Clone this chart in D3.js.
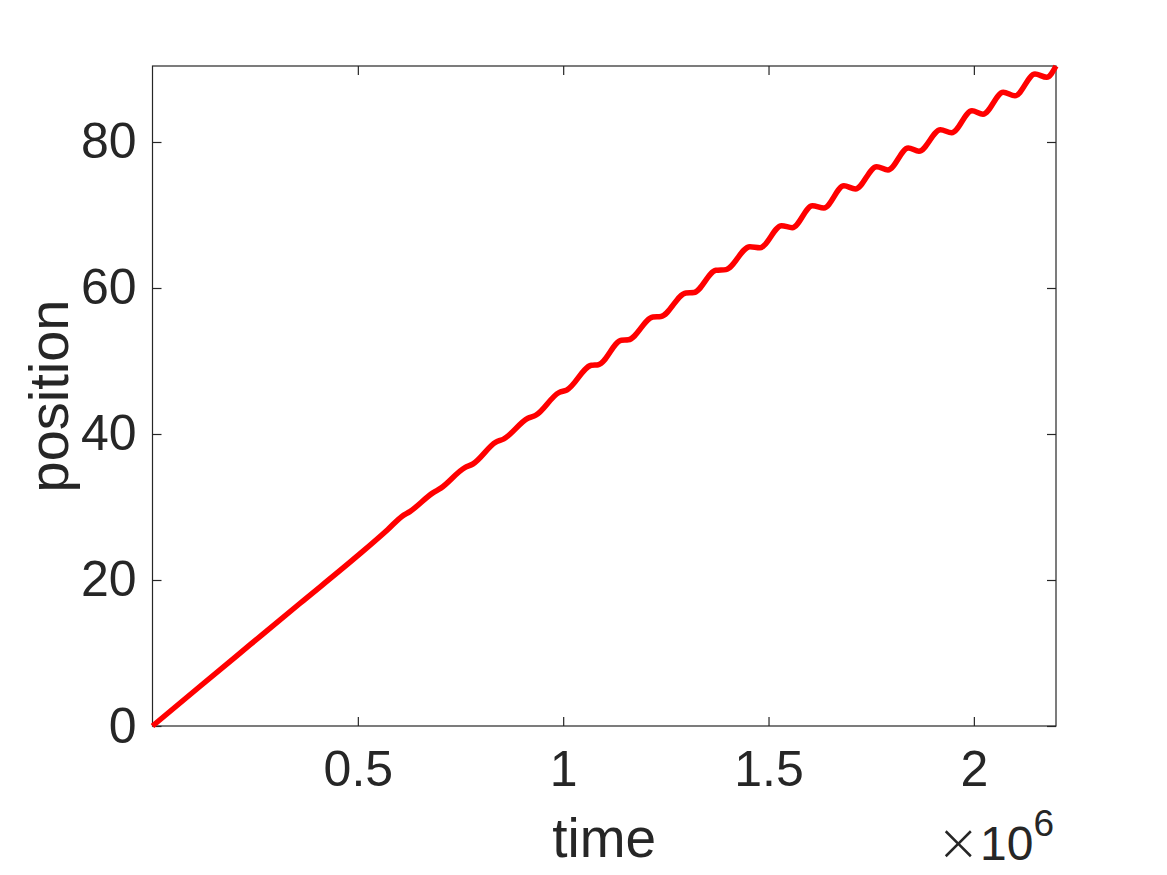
<!DOCTYPE html>
<html>
<head>
<meta charset="utf-8">
<script src="https://cdn.jsdelivr.net/npm/d3@7"></script>
<style>
  html, body { margin: 0; padding: 0; background: #ffffff; }
  svg { display: block; }
  text { font-family: "Liberation Sans", Arial, Helvetica, sans-serif; fill: #262626; }
</style>
</head>
<body>
<svg id="chart" width="1167" height="875"></svg>
<script>
// ---- data ----
const time = [
  0, 115200, 237000, 358700, 496800, 573100,
  607200, 626600, 682700, 702100, 760600, 780100, 836100, 855600,
  914000, 933500, 989500, 1009000, 1068700, 1085700, 1141700, 1158800,
  1218500, 1238000, 1298800, 1318300, 1371900, 1396300,
  1454700, 1479100, 1531900, 1557700, 1606900, 1634900, 1683600, 1711600,
  1763300, 1790800, 1840200, 1866300, 1918700, 1945900, 1995400, 2022200,
  2071600, 2100100, 2148800, 2177300, 2200000
];
const position = [
  0, 5.41, 11.10, 16.78, 23.19, 26.92,
  28.71, 29.37, 31.93, 32.59, 35.40, 35.89, 38.88, 39.34,
  42.16, 42.58, 45.67, 46.03, 49.41, 49.49, 52.84, 52.90,
  56.03, 56.10, 59.32, 59.38, 62.42, 62.52,
  65.66, 65.52, 68.53, 68.26, 71.27, 70.96, 74.00, 73.56,
  76.62, 76.16, 79.18, 78.73, 81.68, 81.27, 84.29, 83.81,
  86.81, 86.32, 89.32, 88.86, 90.41
];
const xTicks = [500000, 1000000, 1500000, 2000000];
const xTickLabels = ["0.5", "1", "1.5", "2"];
const yTicks = [0, 20, 40, 60, 80];
const yTickLabels = ["0", "20", "40", "60", "80"];
const xLabel = "time";
const yLabel = "position";
const xExponent = "6";

(function () {
// ---- layout ----
const svg = d3.select("#chart");
const pL = 152.5, pR = 1056, pT = 66, pB = 726;
const ink = "#262626";

const x = d3.scaleLinear().domain([0, 2200000]).range([pL, pR]);
const y = d3.scaleLinear().domain([0, 90.41]).range([pB, pT]);

const tickLen = 9;
const fontSize = 50;

// box
svg.append("rect")
  .attr("x", pL).attr("y", pT)
  .attr("width", pR - pL).attr("height", pB - pT)
  .attr("fill", "none").attr("stroke", ink).attr("stroke-width", 1.2);

// bottom axis
const xAxis = d3.axisBottom(x).tickValues(xTicks)
  .tickFormat((d, i) => xTickLabels[i]).tickSizeInner(-tickLen).tickSizeOuter(0).tickPadding(24);
const gx = svg.append("g").attr("transform", `translate(0,${pB})`).call(xAxis);
gx.select(".domain").remove();
gx.selectAll("line").attr("stroke", ink).attr("stroke-width", 1.2);
gx.selectAll("text").attr("font-size", fontSize).attr("fill", ink)
  .attr("font-family", "Liberation Sans, Arial, sans-serif");

// top mirrored ticks
const gxt = svg.append("g").attr("transform", `translate(0,${pT})`)
  .call(d3.axisTop(x).tickValues(xTicks).tickFormat("").tickSizeInner(-tickLen).tickSizeOuter(0));
gxt.select(".domain").remove();
gxt.selectAll("line").attr("stroke", ink).attr("stroke-width", 1.2);

// left axis
const yAxis = d3.axisLeft(y).tickValues(yTicks)
  .tickFormat((d, i) => yTickLabels[i]).tickSizeInner(-tickLen).tickSizeOuter(0).tickPadding(16);
const gy = svg.append("g").attr("transform", `translate(${pL},0)`).call(yAxis);
gy.select(".domain").remove();
gy.selectAll("line").attr("stroke", ink).attr("stroke-width", 1.2);
gy.selectAll("text").attr("font-size", fontSize).attr("fill", ink)
  .attr("font-family", "Liberation Sans, Arial, sans-serif");

// right mirrored ticks
const gyr = svg.append("g").attr("transform", `translate(${pR},0)`)
  .call(d3.axisRight(y).tickValues(yTicks).tickFormat("").tickSizeInner(-tickLen).tickSizeOuter(0));
gyr.select(".domain").remove();
gyr.selectAll("line").attr("stroke", ink).attr("stroke-width", 1.2);

// axis labels
svg.append("text")
  .attr("x", (pL + pR) / 2).attr("y", 857)
  .attr("text-anchor", "middle").attr("font-size", 55)
  .text(xLabel);

svg.append("text")
  .attr("transform", `translate(68,${(pT + pB) / 2}) rotate(-90)`)
  .attr("text-anchor", "middle").attr("font-size", 56)
  .text(yLabel);

// exponent label
const ex = svg.append("text")
  .attr("x", pR - 2).attr("y", 860)
  .attr("text-anchor", "end").attr("font-size", 48);
ex.append("tspan").attr("font-size", 52).attr("font-family", "DejaVu Sans, sans-serif")
  .attr("font-weight", 200).text("\u00D7");
ex.append("tspan").text("10");
ex.append("tspan").attr("dy", -24).attr("font-size", 37).text(xExponent);

// series
const pts = time.map((t, i) => [t, position[i]]);
const line = d3.line().x(d => x(d[0])).y(d => y(d[1])).curve(d3.curveMonotoneX);
svg.append("path")
  .datum(pts)
  .attr("d", line)
  .attr("fill", "none")
  .attr("stroke", "#ff0000")
  .attr("stroke-width", 5.5)
  .attr("stroke-linejoin", "round");
})();
</script>
</body>
</html>
